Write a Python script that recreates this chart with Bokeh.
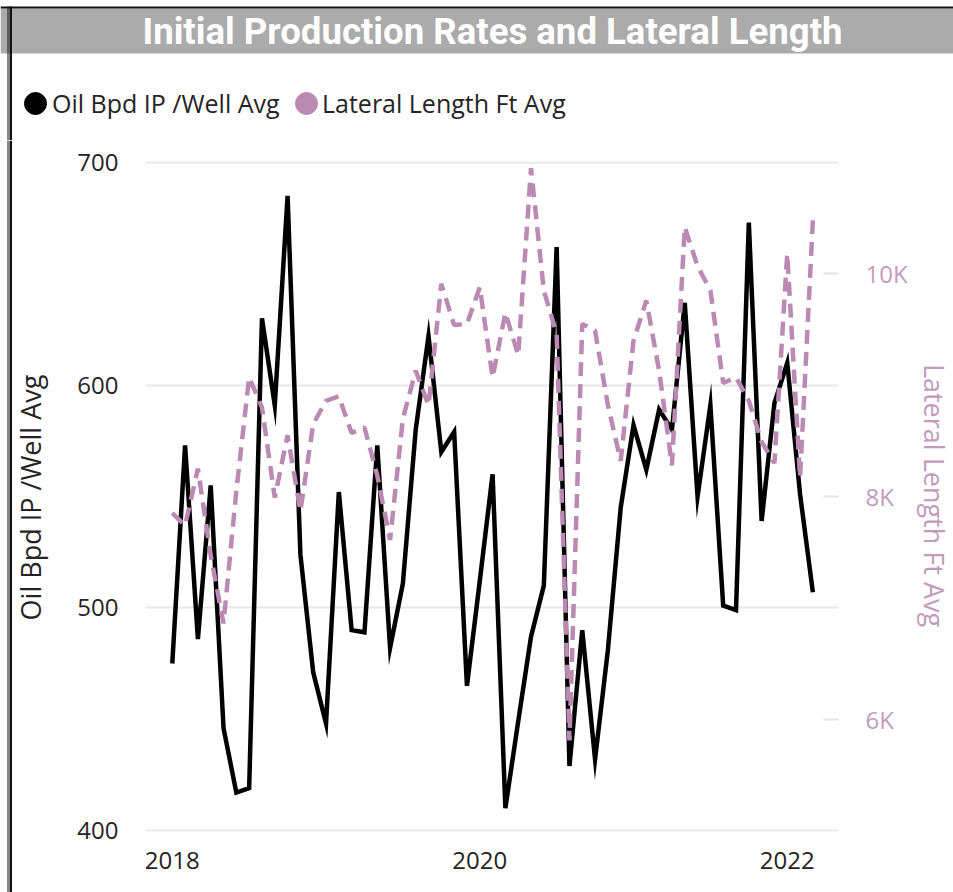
import math
import pandas as pd
from bokeh.plotting import figure
from bokeh.layouts import column, row
from bokeh.models import (Range1d, LinearAxis, FixedTicker, Legend, LegendItem, Label)
from bokeh.embed import file_html
from bokeh.resources import INLINE

# ---------------- data ----------------
months = [d.strftime("%Y-%m") for d in pd.date_range("2018-01-01", "2022-03-01", freq="MS")]
oil_ip = [475, 573, 486, 555, 446, 417, 419, 630, 591, 685, 524, 471, 448, 552, 490,
          489, 573, 482, 511, 580, 622, 570, 579, 465, 512, 560, 410, 449, 487, 510,
          662, 429, 490, 432, 481, 545, 582, 562, 589, 580, 637, 550, 591, 501, 499,
          673, 539, 592, 610, 551, 507]
lateral_ft = [7850, 7740, 8250, 7470, 6860, 8050, 9070, 8800, 7990, 8550, 7870, 8650,
              8860, 8900, 8570, 8620, 8190, 7610, 8700, 9130, 8820, 9910, 9540, 9550,
              9880, 9070, 9650, 9270, 10950, 9850, 9460, 5810, 9550, 9490, 8820, 8320,
              9400, 9760, 9130, 8280, 10420, 10070, 9850, 9020, 9070, 8860, 8490, 8300,
              10180, 8170, 10480]
x_ticks = [0, 24, 48]
x_tick_labels = ["2018", "2020", "2022"]
left_ticks = [400, 500, 600, 700]
right_ticks = [6000, 8000, 10000]
right_tick_labels = ["6K", "8K", "10K"]

TITLE = "Initial Production Rates and Lateral Length"
S1 = "Oil Bpd IP /Well Avg"
S2 = "Lateral Length Ft Avg"

x = list(range(len(months)))

PAGE_W, PAGE_H = 953, 892
HEAD_H = 140
LEFT_W = 60
RIGHT_W = 38
MAUVE = "#BB8AB3"
MAUVE_TXT = "#C29BBC"
TXT = "#252423"
FONT = "Open Sans"
BAR_GREY = "#ABABAB"
INK = "#111111"


def blank(width, height, x0, x1, y0, y1):
    f = figure(width=width, height=height, output_backend="svg", toolbar_location=None,
               x_range=Range1d(x0, x1), y_range=Range1d(y1, y0),
               x_axis_location=None, y_axis_location=None, min_border=0,
               outline_line_color=None, background_fill_color="white",
               border_fill_color="white", frame_align=False)
    f.grid.visible = False
    return f

# ---------------- header: title bar + legend ----------------
head = blank(PAGE_W, HEAD_H, 0, PAGE_W, 0, HEAD_H)
head.quad(left=0, right=PAGE_W, top=8, bottom=53, fill_color=BAR_GREY, line_color=None)
head.quad(left=0, right=PAGE_W, top=6, bottom=8, fill_color=INK, line_color=None)
head.quad(left=7, right=8, top=6, bottom=HEAD_H, fill_color=INK, line_color=None)
head.quad(left=9, right=11.5, top=6, bottom=HEAD_H, fill_color=INK, line_color=None)
head.add_layout(Label(x=492, y=31, text=TITLE, text_align="center",
                      text_baseline="middle", text_color="white",
                      text_font="Liberation Sans Narrow, Roboto",
                      text_font_style="bold", text_font_size="36.6px"))

# legend dots (header space is laid out in page pixels)
d1 = head.scatter([35], [103], size=22, fill_color="black", line_color="black")
d2 = head.scatter([306], [103], size=22, fill_color=MAUVE, line_color=MAUVE)


def make_legend(label, rend, loc, standoff):
    return Legend(items=[LegendItem(label=label, renderers=[rend])], location=loc,
                  glyph_width=22, glyph_height=22, label_standoff=standoff,
                  padding=0, margin=0, spacing=0, background_fill_alpha=0,
                  border_line_color=None, label_text_font=FONT,
                  label_text_font_size="25px", label_text_color=TXT,
                  label_text_baseline="middle")

head.add_layout(make_legend(S1, d1, (24, 20), 6))
head.add_layout(make_legend(S2, d2, (295, 20), 5))

# ---------------- left strip: border + left axis title ----------------
MAIN_H = PAGE_H - HEAD_H
left = blank(LEFT_W, MAIN_H, 0, LEFT_W, HEAD_H, PAGE_H)
left.quad(left=7, right=8, top=HEAD_H, bottom=PAGE_H, fill_color=INK, line_color=None)
left.quad(left=9, right=11.5, top=HEAD_H, bottom=PAGE_H, fill_color=INK, line_color=None)
left.add_layout(Label(x=30, y=497, text=S1, angle=math.pi / 2, text_align="center",
                      text_baseline="middle", text_color=TXT, text_font=FONT,
                      text_font_size="27px"))

# ---------------- right strip: right axis title ----------------
right = blank(RIGHT_W, MAIN_H, PAGE_W - RIGHT_W, PAGE_W, HEAD_H, PAGE_H)
right.add_layout(Label(x=PAGE_W - RIGHT_W / 2, y=495, text=S2, angle=-math.pi / 2,
                       text_align="center", text_baseline="middle",
                       text_color=MAUVE_TXT, text_font=FONT, text_font_size="27px"))

# ---------------- main chart ----------------
MAIN_W = PAGE_W - LEFT_W - RIGHT_W
px_per_unit = 668 / 300.0
pad = 1 / px_per_unit
p = figure(width=MAIN_W, height=MAIN_H, output_backend="svg", toolbar_location=None,
           x_range=Range1d(-2.09, 52.0), y_range=Range1d(400 - pad, 700 + pad),
           min_border_left=145 - LEFT_W, min_border_right=PAGE_W - RIGHT_W - 838,
           min_border_top=161 - HEAD_H, min_border_bottom=PAGE_H - 831,
           outline_line_color=None, background_fill_color="white",
           border_fill_color="white", frame_align=False)
rpad = pad * 20
p.extra_y_ranges = {"ll": Range1d(5000 - rpad, 11000 + rpad)}

xa = p.xaxis[0]
xa.ticker = FixedTicker(ticks=x_ticks)
xa.major_label_overrides = {t: l for t, l in zip(x_ticks, x_tick_labels)}
xa.axis_line_color = None
xa.major_tick_line_color = None
xa.major_tick_out = 0
xa.major_tick_in = 0
xa.minor_tick_line_color = None
xa.major_label_text_font = FONT
xa.major_label_text_font_size = "24px"
xa.major_label_text_color = TXT
xa.major_label_standoff = 20

ya = p.yaxis[0]
ya.ticker = FixedTicker(ticks=left_ticks)
ya.axis_line_color = None
ya.major_tick_line_color = None
ya.major_tick_out = 0
ya.major_tick_in = 0
ya.minor_tick_line_color = None
ya.major_label_text_font = FONT
ya.major_label_text_font_size = "24px"
ya.major_label_text_color = TXT
ya.major_label_standoff = 27

ra = LinearAxis(y_range_name="ll", ticker=FixedTicker(ticks=right_ticks),
                major_label_overrides={t: l for t, l in zip(right_ticks, right_tick_labels)})
ra.axis_line_color = None
ra.major_tick_in = 15
ra.major_tick_out = 0
ra.major_tick_line_color = "#E3E3E3"
ra.major_tick_line_width = 2
ra.minor_tick_line_color = None
ra.major_label_text_font = FONT
ra.major_label_text_font_size = "24px"
ra.major_label_text_color = MAUVE_TXT
ra.major_label_standoff = 27
p.add_layout(ra, "right")

p.xgrid.grid_line_color = None
p.ygrid.ticker = FixedTicker(ticks=left_ticks)
p.ygrid.grid_line_color = "#E8E8E8"
p.ygrid.grid_line_width = 2

p.line(x, oil_ip, line_color="black", line_width=4.5, line_join="miter")
p.line(x, lateral_ft, y_range_name="ll", line_color=MAUVE, line_width=4.5,
       line_dash="14 8")

layout = column(head, row(left, p, right, spacing=0), spacing=0)
open("out.html", "w").write(file_html(layout, INLINE))
